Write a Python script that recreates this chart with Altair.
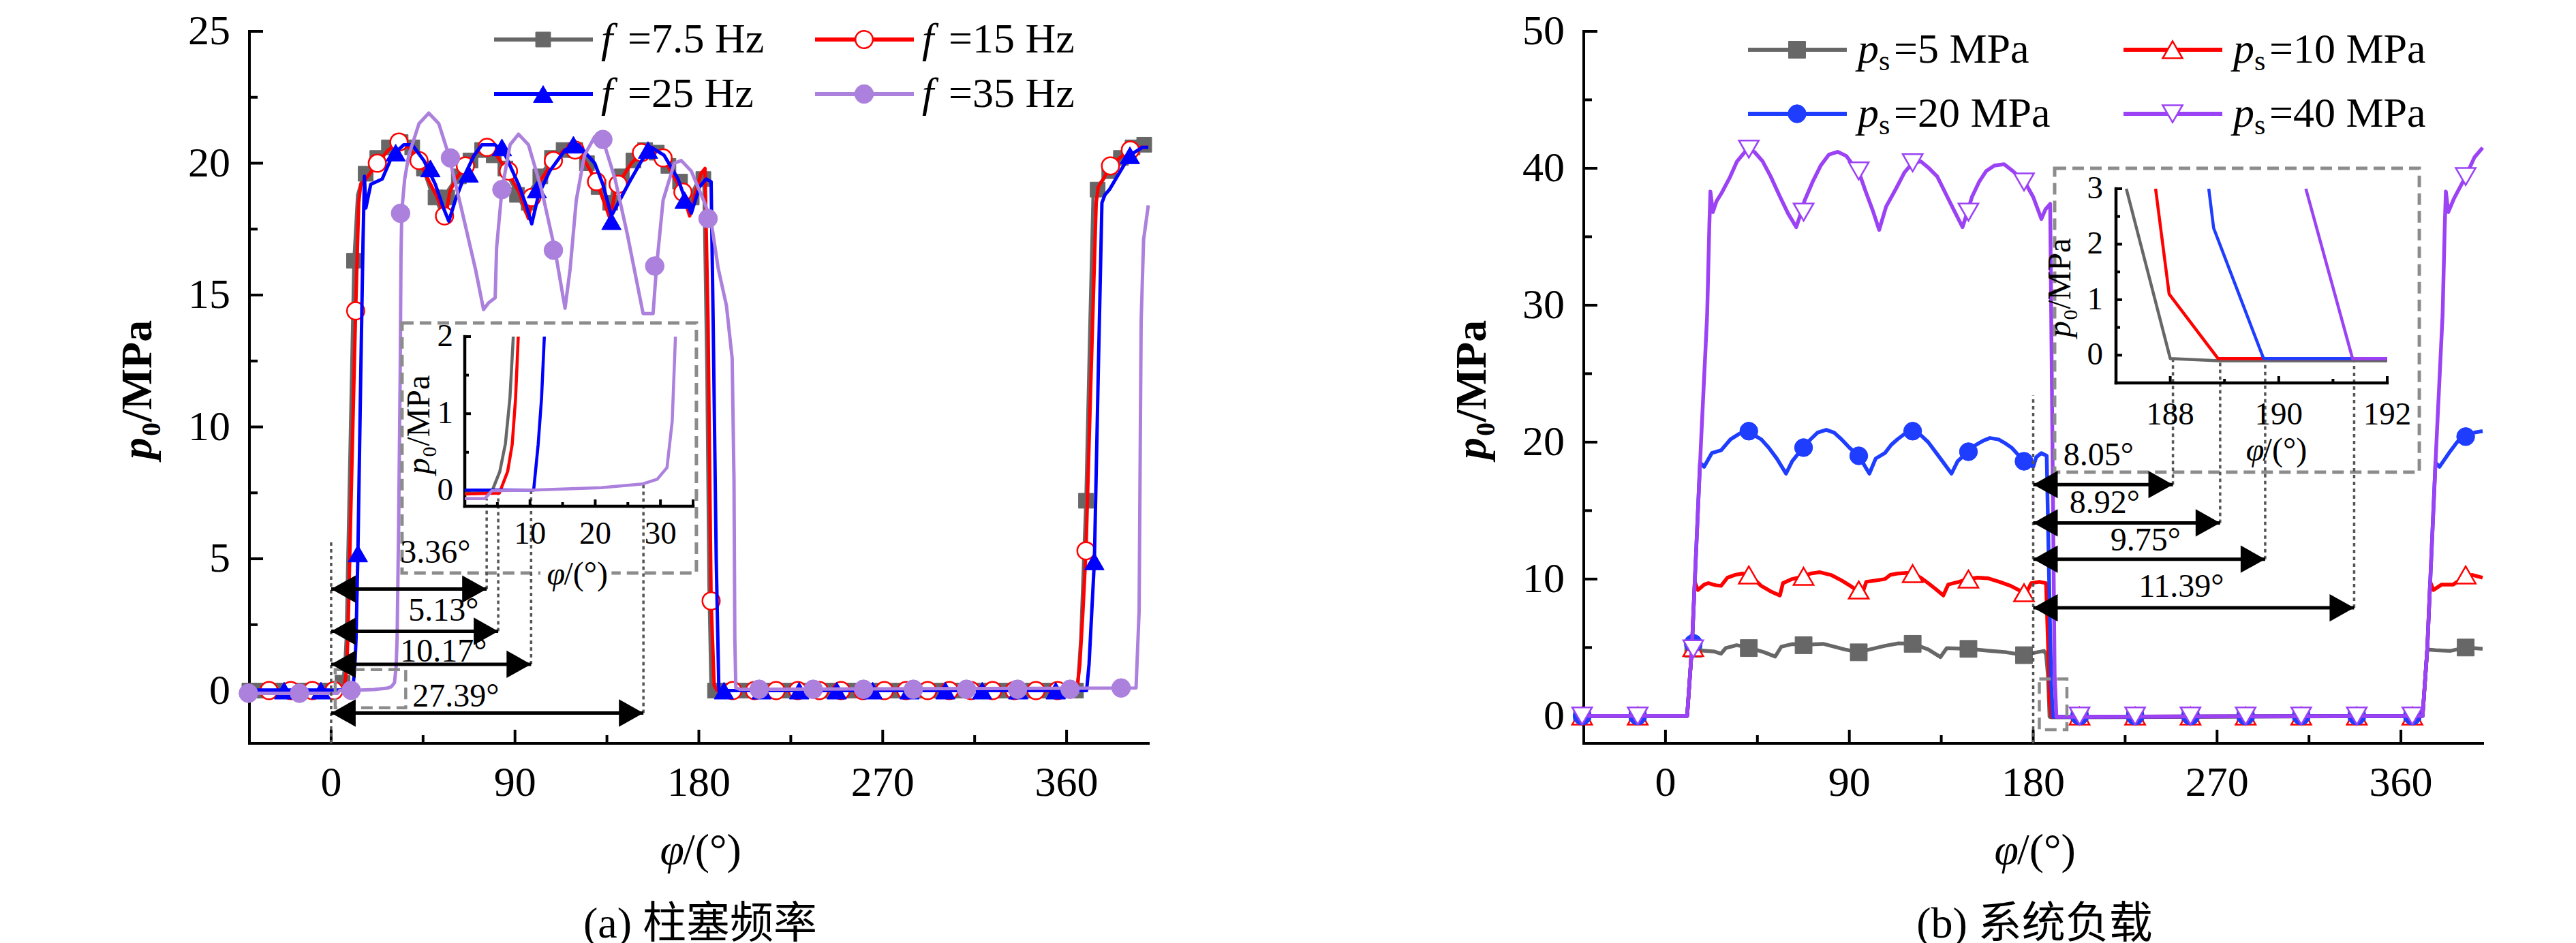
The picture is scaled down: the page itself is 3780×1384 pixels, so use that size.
import altair as alt
import pandas as pd

# ---------------- layout (pixels) ----------------
W, H = 1319, 1045
SERIF = "Liberation Serif"
CAPFONT = "Liberation Serif, Noto Sans CJK SC"
DUMMY = pd.DataFrame({"d": [0]})

X_DOM = [-40, 400]
X_MAJOR = [0, 90, 180, 270, 360]
X_MINOR = [45, 135, 225, 315]

# =============== panel (a): plunger frequency ===============
A_Y_DOM = [-2, 25]
A_Y_MAJOR = [0, 5, 10, 15, 20, 25]
A_Y_MINOR = [2.5, 7.5, 12.5, 17.5, 22.5]
A_LEG = ["=7.5 Hz", "=15 Hz", "=25 Hz", "=35 Hz"]
A_COLORS = ["#676767", "#ff0000", "#0000ff", "#ac80dd"]

a1_x = [-40, 3.0, 4.15, 5.37, 6.23, 6.92, 7.44, 9.0, 11.2, 13.0,
        16.1, 22.6, 28.3, 34.0, 39.7, 44.6, 48.6, 52.0, 55.3, 57.5,
        62.0, 67.5, 73.0, 78.5, 84.0, 89.5, 95.5, 98.0, 103.0, 108.5,
        114.0, 119.5, 125.0, 130.5, 135.8, 138.0, 143.0, 148.5, 154.0, 159.5,
        165.0, 170.5, 175.0, 177.5, 180.8, 182.5, 184.0, 185.0, 186.0, 187.0,
        365.3, 367.0, 369.5, 371.5, 373.0, 376.0, 381.0, 386.0, 391.0, 395.7, 400]
a1_y = [0, 0, 0.01, 0.25, 0.61, 1.2, 2.0, 8.0, 16.3, 18.8,
        19.6, 20.2, 20.6, 20.8, 20.6, 19.9, 19.0, 18.5, 17.9, 19.0,
        19.5, 20.1, 20.5, 20.4, 19.9, 19.1, 18.1, 19.0, 19.6, 20.2,
        20.5, 20.5, 20.0, 19.2, 18.1, 19.0, 19.6, 20.2, 20.5, 20.4,
        19.9, 19.3, 18.4, 19.0, 19.5, 19.4, 12.0, 4.0, 0.1, 0.0,
        0.0, 2.0, 7.2, 14.0, 18.7, 19.2, 19.7, 20.1, 20.5, 20.7, 20.7]
a1_mx = [-40.0, -34.3, -28.6, -22.9, -17.2, -11.5, -5.8, -0.1, 5.6,
         11.2, 16.9, 22.6, 28.3, 34.0, 39.7, 45.4, 51.1, 56.8, 62.5,
         68.2, 73.9, 79.6, 85.3, 91.0, 96.7, 102.4, 108.1, 113.8, 119.5,
         125.2, 130.9, 136.6, 142.3, 148.0, 153.7, 159.4, 165.1, 170.8, 176.5,
         182.2, 187.9, 193.6, 199.3, 205.0, 210.7, 216.4, 222.1, 227.8, 233.5,
         239.2, 244.9, 250.6, 256.3, 262.0, 267.7, 273.4, 279.1, 284.8, 290.5,
         296.2, 301.9, 307.6, 313.3, 319.0, 324.7, 330.4, 336.1, 341.8, 347.5,
         353.2, 358.9, 364.6, 369.5, 375.2, 380.9, 386.6, 392.3, 398.0]
a1_my = [0, 0, 0, 0, 0, 0, 0, 0, 0.3,
         16.3, 19.6, 20.2, 20.6, 20.8, 20.6, 19.8, 18.7, 18.7, 19.5,
         20.1, 20.5, 20.3, 19.8, 18.8, 18.5, 19.5, 20.2, 20.5, 20.5,
         20.0, 19.1, 18.5, 19.5, 20.1, 20.5, 20.4, 19.9, 19.3, 18.7,
         19.4, 0, 0, 0, 0, 0, 0, 0, 0, 0,
         0, 0, 0, 0, 0, 0, 0, 0, 0, 0,
         0, 0, 0, 0, 0, 0, 0, 0, 0, 0,
         0, 0, 0, 7.2, 19.0, 19.7, 20.2, 20.6, 20.7]

a2_x = [-40, 4.0, 5.37, 6.57, 7.27, 7.79, 8.2, 10.0, 12.0, 13.5,
        14.5, 18.0, 22.6, 28.0, 34.0, 38.0, 43.0, 48.0, 52.0, 56.0,
        58.0, 61.0, 65.7, 71.0, 76.0, 81.0, 87.0, 92.0, 96.6, 99.0,
        103.0, 109.0, 114.0, 119.0, 124.0, 130.0, 136.5, 139.0, 142.0, 147.0,
        152.0, 157.0, 162.5, 167.0, 172.0, 175.5, 178.0, 181.0, 183.0, 184.5,
        186.0, 187.5, 189.0, 365.0, 366.5, 368.0, 369.5, 372.0, 374.5, 375.5,
        378.0, 381.5, 386.0, 391.0, 396.0, 400]
a2_y = [-0.02, -0.02, 0.0, 0.25, 0.6, 1.2, 2.0, 8.0, 14.4, 18.5,
        19.2, 19.5, 20.0, 20.5, 20.8, 20.6, 20.1, 19.3, 18.7, 17.9,
        18.9, 19.4, 19.9, 20.4, 20.6, 20.3, 19.6, 18.9, 17.9, 18.9,
        19.4, 20.1, 20.5, 20.5, 20.1, 19.3, 17.9, 18.9, 19.4, 20.0,
        20.4, 20.6, 20.2, 19.6, 18.9, 18.0, 18.8, 19.6, 19.8, 14.0,
        3.4, 0.2, 0.0, 0.0, 1.0, 3.0, 5.3, 12.0, 18.5, 19.1,
        19.4, 19.9, 20.2, 20.5, 20.6, 20.6]
a2_mx = [-30.4, -19.8, -9.2, 1.4, 12.0, 22.6, 33.2, 43.0, 55.5, 65.7,
         76.3, 86.8, 98.2, 108.8, 119.4, 129.9, 140.5, 151.9, 162.5, 172.2,
         186.0, 196.6, 207.2, 217.8, 228.4, 239.0, 249.6, 260.2, 270.8, 281.4,
         292.0, 302.6, 313.2, 323.8, 334.4, 345.0, 355.6, 369.5, 381.5, 391.2]
a2_my = [0, 0, 0, 0, 14.4, 20.0, 20.8, 20.1, 18.0, 19.9,
         20.6, 19.7, 18.7, 20.1, 20.5, 19.3, 19.2, 20.4, 20.2, 18.9,
         3.4, 0, 0, 0, 0, 0, 0, 0, 0, 0,
         0, 0, 0, 0, 0, 0, 0, 5.3, 19.9, 20.5]

a3_x = [-40, 10.56, 11.25, 11.77, 12.2, 13.1, 14.5, 15.6, 16.3, 17.0,
        19.4, 25.0, 30.0, 35.6, 39.7, 45.4, 51.0, 55.0, 57.6, 60.8,
        65.7, 70.0, 73.8, 80.3, 85.3, 91.7, 95.0, 98.2, 101.5, 107.0,
        114.5, 121.0, 129.0, 133.0, 137.2, 142.0, 145.4, 152.0, 156.8, 163.0,
        169.8, 173.0, 176.3, 180.3, 183.6, 186.0, 187.0, 188.5, 189.8, 369.8,
        371.0, 373.6, 375.5, 377.3, 378.8, 381.0, 384.8, 391.0, 397.0, 400]
a3_y = [0.02, 0.02, 0.6, 1.2, 2.0, 5.2, 12.0, 17.0, 19.5, 18.3,
        19.2, 19.4, 20.3, 20.7, 20.7, 20.1, 19.2, 18.3, 17.8, 18.6,
        19.6, 20.3, 20.7, 20.7, 20.3, 19.2, 18.5, 17.7, 18.8, 19.7,
        20.5, 20.7, 20.0, 19.2, 18.0, 18.7, 19.2, 20.1, 20.6, 20.3,
        19.4, 18.7, 18.1, 19.1, 19.4, 19.3, 14.0, 5.0, 0.0, 0.0,
        1.0, 4.9, 12.0, 18.5, 18.8, 19.0, 19.5, 20.3, 20.6, 20.6]
a3_mx = [-23.0, -5.0, 13.1, 31.6, 48.6, 67.3, 83.6, 100.7, 118.6, 137.2,
         155.1, 173.0, 192.3, 210.7, 229.1, 247.5, 265.1, 283.1, 300.7, 318.7,
         336.3, 354.7, 373.6, 391.0]
a3_my = [0, 0, 5.2, 20.4, 19.8, 19.6, 20.6, 19.0, 20.7, 17.8,
         20.5, 18.6, 0, 0, 0, 0, 0, 0, 0, 0,
         0, 0, 4.9, 20.3]

a4_x = [-40, 3.1, 4.15, 10.5, 20.9, 27.3, 29.5, 31.0, 31.8, 32.3,
        33.0, 33.8, 34.2, 34.6, 36.0, 38.0, 43.0, 47.8, 52.7, 57.6,
        64.0, 70.6, 74.6, 77.0, 80.3, 81.0, 83.6, 87.6, 91.7, 96.6,
        103.0, 109.6, 114.5, 117.0, 120.0, 124.0, 129.0, 133.0, 139.0, 145.0,
        152.7, 157.6, 159.2, 162.5, 168.0, 171.4, 176.3, 182.8, 186.0, 189.5,
        193.5, 196.3, 197.2, 197.6, 198.1, 200.0, 394.0, 395.5, 396.5, 397.7, 400]
a4_y = [-0.1, -0.1, 0.0, 0.01, 0.04, 0.09, 0.15, 0.3, 0.9, 2.0,
        6.0, 12.0, 16.5, 18.2, 19.4, 20.3, 21.5, 21.9, 21.5, 20.3,
        18.2, 16.0, 14.45, 14.7, 14.9, 16.8, 19.0, 20.7, 21.1, 20.7,
        19.0, 16.7, 14.5, 16.0, 18.6, 20.3, 21.0, 20.9, 19.4, 17.3,
        14.3, 14.3, 16.0, 18.6, 20.0, 20.1, 19.7, 18.5, 17.8, 16.0,
        14.6, 12.6, 8.0, 2.0, 0.1, 0.05, 0.1, 3.0, 14.0, 17.1, 18.4]
a4_mx = [-40.5, -15.5, 9.8, 34.0, 58.4, 83.6, 108.8, 133.0, 158.4, 184.5,
         209.5, 236.0, 260.6, 285.0, 311.0, 336.0, 361.7, 386.7]
a4_my = [-0.1, -0.1, 0.01, 18.1, 20.2, 19.0, 16.7, 20.9, 16.1, 17.9,
         0.05, 0.05, 0.05, 0.05, 0.05, 0.05, 0.05, 0.1]

# inset of (a)
A_IN_XD, A_IN_YD = [0, 35], [-0.2, 2]
A_IN_XR, A_IN_YR = [316, 651], [697, 448]
A_IN_XMAJ, A_IN_XMIN = [10, 20, 30, 35], [5, 15, 25]
A_IN_YMAJ, A_IN_YMIN = [0, 1, 2], [0.5, 1.5]
A_IN_XLAB, A_IN_YLAB = [10, 20, 30], [0, 1, 2]
ai1_x, ai1_y = [0, 4.1, 5.37, 6.23, 6.92, 7.44], [-0.03, -0.02, 0.25, 0.61, 1.2, 2.0]
ai2_x, ai2_y = [0, 5.3, 6.57, 7.27, 7.79, 8.2], [-0.04, -0.03, 0.25, 0.6, 1.2, 2.0]
ai3_x, ai3_y = [0, 10.56, 11.25, 11.77, 12.2], [0.01, 0.01, 0.6, 1.2, 2.0]
ai4_x = [0, 3.1, 4.15, 10.5, 20.9, 27.3, 29.5, 31.0, 31.8, 32.3]
ai4_y = [-0.1, -0.1, 0.0, 0.01, 0.04, 0.09, 0.15, 0.3, 0.9, 2.0]

# annotations of (a)
A_ARR_START = 0
A_ARR_DEG = [3.36, 5.13, 10.17, 27.39]
A_ARR_Y = [3.85, 2.25, 1.0, -0.85]
A_ARR_TOP = [-0.1, 0.0, 0.0, 0.09]
A_ARR_TXT = ["3.36°", "5.13°", "10.17°", "27.39°"]
A_TXT_X = [51, 55, 55, 61]
A_TXT_Y = [5.2, 3.0, 1.45, -0.25]
A_VLINE = [0, 5.7]
A_BIG = [34.7, 178.8, 4.46, 13.94]
A_SMALL = [2.0, 36.5, -0.65, 0.8]

# =============== panel (b): system load ===============
B_Y_DOM = [-2, 50]
B_Y_MAJOR = [0, 10, 20, 30, 40, 50]
B_Y_MINOR = [5, 15, 25, 35, 45]
B_LEG = ["=5 MPa", "=10 MPa", "=20 MPa", "=40 MPa"]
B_COLORS = ["#676767", "#ff0000", "#1e3dff", "#9b42f5"]

b1_x = [-40, 10.6, 12.9, 16.0, 19.7, 24.0, 27.2, 29.5, 34.8, 40.8,
        48.4, 53.7, 56.7, 62.0, 67.6, 77.2, 87.7, 94.6, 98.3, 107.4,
        114.0, 121.0, 128.6, 134.6, 137.7, 148.3, 158.8, 167.0, 175.5, 180.0,
        185.3, 186.3, 187.19, 188.0, 188.9, 370.6, 372.9, 377.0, 384.0, 391.7, 400]
b1_y = [0, 0, 4.86, 4.8, 4.75, 4.7, 4.55, 4.96, 5.17, 5.0,
        4.65, 4.34, 5.06, 5.25, 5.2, 5.27, 4.86, 4.65, 4.8, 5.12,
        5.3, 5.27, 4.86, 4.3, 4.96, 4.9, 4.75, 4.65, 4.44, 4.6,
        4.75, 4.5, 3.0, -0.06, -0.1, 0, 4.86, 4.8, 4.75, 5.0, 4.9]
b2_x = [-40, 10.6, 12.9, 14.3, 15.9, 19.0, 21.0, 24.5, 27.2, 30.3,
        34.0, 37.8, 42.0, 46.9, 51.5, 56.0, 57.5, 62.0, 67.6, 71.0,
        75.6, 81.0, 86.2, 90.5, 94.5, 96.5, 98.3, 103.0, 107.4, 110.0,
        113.5, 118.0, 121.0, 125.0, 128.6, 132.0, 136.0, 138.4, 143.7, 148.0,
        152.8, 158.0, 163.4, 169.0, 175.5, 177.0, 179.0, 183.0, 186.3, 187.73,
        187.98, 188.88, 370.6, 372.9, 374.3, 375.9, 380.0, 385.6, 391.7, 395.0, 400]
b2_y = [0, 0, 4.9, 9.8, 9.2, 9.6, 9.7, 9.55, 9.5, 10.1,
        10.3, 10.4, 10.2, 9.5, 9.1, 8.8, 9.7, 10.0, 10.2, 10.4,
        10.5, 10.3, 9.9, 9.5, 9.1, 9.0, 9.8, 9.9, 10.0, 10.3,
        10.4, 10.45, 10.4, 10.1, 9.7, 9.3, 8.8, 9.6, 9.8, 10.0,
        10.1, 10.05, 9.8, 9.5, 9.0, 9.1, 9.7, 9.8, 9.7, 3.0,
        1.1, -0.06, 0, 4.9, 9.8, 9.2, 9.6, 9.6, 10.2, 10.3, 10.1]
b3_x = [-40, 10.6, 12.9, 14.4, 16.9, 18.9, 22.7, 27.2, 31.8, 36.0,
        40.0, 46.9, 50.5, 54.5, 59.0, 62.0, 67.3, 71.0, 74.5, 78.7,
        82.5, 86.2, 90.0, 94.5, 97.0, 99.8, 102.9, 107.4, 110.5, 113.5,
        117.0, 121.0, 125.0, 128.6, 134.6, 140.0, 143.0, 148.0, 152.0, 155.5,
        158.8, 163.0, 166.5, 169.4, 175.5, 180.0, 181.5, 184.0, 186.6, 188.71,
        188.8, 189.72, 370.6, 372.9, 374.4, 376.9, 378.9, 383.5, 387.5, 391.7, 396.0, 400]
b3_y = [0, 0, 4.9, 10.0, 18.5, 18.2, 19.2, 19.4, 20.2, 20.6,
        20.8, 20.2, 19.6, 18.8, 17.7, 18.6, 19.6, 20.2, 20.7, 20.9,
        20.7, 20.2, 19.6, 19.0, 18.4, 17.7, 18.8, 19.2, 19.8, 20.2,
        20.6, 20.8, 20.5, 20.0, 18.8, 17.7, 18.6, 19.3, 19.8, 20.1,
        20.3, 20.2, 19.9, 19.6, 18.6, 18.2, 18.9, 19.2, 19.0, 3.0,
        2.29, -0.06, 0, 4.9, 10.0, 18.5, 18.2, 19.2, 20.0, 20.5, 20.7, 20.8]
b4_x = [-40, 10.6, 12.9, 14.4, 17.4, 20.4, 21.5, 22.0, 23.2, 25.0,
        27.5, 31.4, 35.0, 39.5, 43.5, 47.6, 51.5, 55.8, 60.0, 64.0,
        66.0, 68.0, 72.0, 76.0, 80.0, 84.3, 88.5, 92.0, 94.5, 98.0,
        101.5, 104.6, 108.0, 112.8, 117.0, 121.0, 125.0, 129.0, 133.0, 137.0,
        141.0, 145.4, 148.0, 150.0, 153.5, 157.0, 161.0, 165.7, 170.0, 175.9,
        180.0, 184.0, 186.0, 188.3, 190.5, 191.36, 370.6, 372.9, 374.4, 377.4,
        380.4, 381.5, 382.0, 383.2, 386.0, 391.7, 396.0, 400]
b4_y = [0, 0, 4.9, 10.0, 20.0, 29.3, 36.0, 38.3, 36.8, 37.6,
        38.2, 39.3, 40.5, 41.3, 41.2, 40.5, 39.4, 38.0, 36.7, 35.7,
        36.6, 37.6, 39.0, 40.2, 41.0, 41.2, 40.9, 40.2, 39.8, 38.3,
        36.9, 35.5, 37.2, 38.5, 39.7, 40.4, 40.5, 40.0, 39.4, 38.2,
        37.0, 35.7, 36.9, 37.9, 39.0, 39.8, 40.2, 40.3, 39.8, 39.0,
        37.9, 36.3, 37.0, 37.4, 3.0, -0.06, 0, 4.9, 10.0, 20.0,
        29.3, 36.0, 38.3, 36.8, 37.8, 39.4, 40.8, 41.5]
B_MX = [-40.8, -13.6, 13.6, 40.8, 67.6, 94.6, 121.0, 148.3, 175.5, 202.7,
        229.9, 257.0, 284.0, 311.2, 338.4, 365.6, 391.7]
b1_my = [0, 0, 4.9, 4.96, 5.17, 4.65, 5.27, 4.9, 4.44, 0, 0, 0, 0, 0, 0, 0, 5.0]
b2_my = [0, 0, 5.0, 10.3, 10.2, 9.2, 10.4, 10.0, 9.0, 0, 0, 0, 0, 0, 0, 0, 10.3]
b3_my = [0, 0, 5.3, 20.8, 19.6, 19.0, 20.8, 19.3, 18.6, 0, 0, 0, 0, 0, 0, 0, 20.4]
b4_my = [0, 0, 4.9, 41.4, 36.8, 39.8, 40.4, 36.8, 39.0, 0, 0, 0, 0, 0, 0, 0, 39.4]

# inset of (b)
B_IN_XD, B_IN_YD = [187, 192], [-0.5, 3]
B_IN_XR, B_IN_YR = [781, 1179], [516, 231]
B_IN_XMAJ, B_IN_XMIN = [188, 190, 192], [189, 191]
B_IN_YMAJ, B_IN_YMIN = [0, 1, 2, 3], [0.5, 1.5, 2.5]
B_IN_XLAB, B_IN_YLAB = [188, 190, 192], [0, 1, 2, 3]
bi1_x, bi1_y = [187.19, 188.0, 188.9, 192.0], [3.0, -0.06, -0.1, -0.1]
bi2_x, bi2_y = [187.73, 187.98, 188.88, 192.0], [3.0, 1.1, -0.06, -0.06]
bi3_x, bi3_y = [188.71, 188.8, 189.72, 192.0], [3.0, 2.29, -0.06, -0.06]
bi4_x, bi4_y = [190.5, 191.36, 192.0], [3.0, -0.06, -0.06]

B_ARR_START = 180
B_ARR_DEG = [188.05, 188.92, 189.75, 191.39]
B_ARR_Y = [16.9, 14.1, 11.45, 7.9]
B_ARR_TOP = [-0.06, -0.06, -0.06, -0.06]
B_ARR_TXT = ["8.05°", "8.92°", "9.75°", "11.39°"]
B_TXT_X = [212, 215, 235, 252.5]
B_TXT_Y = [19.0, 15.5, 12.8, 9.4]
B_VLINE = [180, 23.4]
B_BIG = [190.5, 369.0, 17.8, 40.0]
B_SMALL = [183.0, 196.5, -1.0, 2.7]


# ---------------- helpers ----------------
def xq(f, s):
    return alt.X(f, type="quantitative", scale=s, axis=None)


def yq(f, s):
    return alt.Y(f, type="quantitative", scale=s, axis=None)


def line(xs, ys, color, sx, sy, width):
    df = pd.DataFrame({"x": xs, "y": ys, "o": list(range(len(xs)))})
    return alt.Chart(df).mark_line(color=color, strokeWidth=width, strokeJoin="round").encode(
        x=xq("x", sx), y=yq("y", sy), order=alt.Order("o:Q"))


def markers(xs, ys, sx, sy, mk):
    df = pd.DataFrame({"x": xs, "y": ys})
    return alt.Chart(df).mark_point(shape=mk["shape"], size=mk["size"], filled=True, fill=mk["fill"],
                                    stroke=mk["stroke"], strokeWidth=mk["sw"], opacity=1).encode(
        x=xq("x", sx), y=yq("y", sy))


def ticks(vals, fixed, sx, sy, length, vertical, sw=4):
    if vertical:
        df = pd.DataFrame({"x": vals, "y": [fixed] * len(vals)})
        shape = "M0,0L0,-1"
    else:
        df = pd.DataFrame({"x": [fixed] * len(vals), "y": vals})
        shape = "M0,0L1,0"
    return alt.Chart(df).mark_point(shape=shape, size=(2 * length) ** 2, filled=False, color="black",
                                    strokeWidth=sw, opacity=1).encode(x=xq("x", sx), y=yq("y", sy))


def axis_lines(xd, yd, sx, sy, sw):
    df = pd.DataFrame({"x": [xd[0]], "x2": [xd[1]], "y": [yd[0]], "y2": [yd[1]]})
    bottom = alt.Chart(df).mark_rule(color="black", strokeWidth=sw, strokeCap="square").encode(
        x=xq("x", sx), x2=alt.X2("x2"), y=yq("y", sy))
    left = alt.Chart(df).mark_rule(color="black", strokeWidth=sw, strokeCap="square").encode(
        x=xq("x", sx), y=yq("y", sy), y2=alt.Y2("y2"))
    return [bottom, left]


def xlabels(vals, sx, ypx, size):
    df = pd.DataFrame({"x": vals, "t": [str(v) for v in vals]})
    return alt.Chart(df).mark_text(font=SERIF, fontSize=size, align="center", baseline="middle",
                                   color="black").encode(x=xq("x", sx), y=alt.value(ypx), text="t:N")


def ylabels(vals, sy, xpx, size):
    df = pd.DataFrame({"y": vals, "t": [str(v) for v in vals]})
    return alt.Chart(df).mark_text(font=SERIF, fontSize=size, align="right", baseline="middle",
                                   color="black").encode(x=alt.value(xpx), y=yq("y", sy), text="t:N")


def ptext(text, x, y, size, style="normal", weight="normal", align="left", baseline="middle",
          angle=0, font=SERIF):
    return alt.Chart(DUMMY).mark_text(text=text, font=font, fontSize=size, fontStyle=style,
                                      fontWeight=weight, align=align, baseline=baseline, angle=angle,
                                      color="black").encode(x=alt.value(x), y=alt.value(y))


def dbox(b, sx, sy, sw):
    df = pd.DataFrame({"x": [b[0]], "x2": [b[1]], "y": [b[2]], "y2": [b[3]]})
    return alt.Chart(df).mark_rect(fill="white", fillOpacity=0, stroke="#8c8c8c", strokeWidth=sw,
                                   strokeDash=[17, 9]).encode(
        x=xq("x", sx), x2=alt.X2("x2"), y=yq("y", sy), y2=alt.Y2("y2"))


def phi_title(cx, cy, size):
    return [ptext("φ", cx - 0.92 * size, cy, size, style="italic"),
            ptext("/(°)", cx - 0.40 * size, cy, size)]


def p_title(xb, ybot, size, weight, sub):
    adv_p = 0.53 * size
    sub_size = 0.63 * size
    return [ptext("p", xb, ybot, size, style="italic", weight=weight, baseline="alphabetic", angle=270),
            ptext(sub, xb + 0.2 * size, ybot - adv_p, sub_size, weight=weight, baseline="alphabetic",
                  angle=270),
            ptext("/MPa", xb, ybot - adv_p - 0.52 * sub_size, size, weight=weight, baseline="alphabetic",
                  angle=270)]


def legend_entry(x0, y, color, mk, lw=6):
    ln = alt.Chart(DUMMY).mark_rule(color=color, strokeWidth=lw).encode(
        x=alt.value(x0), x2=alt.value(x0 + 145), y=alt.value(y))
    pt = alt.Chart(DUMMY).mark_point(shape=mk["shape"], size=mk["size"], filled=True, fill=mk["fill"],
                                     stroke=mk["stroke"], strokeWidth=mk["sw"], opacity=1).encode(
        x=alt.value(x0 + 72), y=alt.value(y))
    return [ln, pt]


def inset_to_main_x(v, ixd, ixr, xd):
    px = ixr[0] + (v - ixd[0]) / (ixd[1] - ixd[0]) * (ixr[1] - ixr[0])
    return xd[0] + px / W * (xd[1] - xd[0])


def inset_to_main_y(v, iyd, iyr, yd):
    px = iyr[0] + (v - iyd[0]) / (iyd[1] - iyd[0]) * (iyr[1] - iyr[0])
    return yd[1] - px / H * (yd[1] - yd[0])


def build_panel(y_dom, y_major, y_minor, series, mks, lw, legend, arrows, boxes, vline,
                inset, caption, ytitle_sub):
    sx = alt.Scale(domain=X_DOM, nice=False, zero=False)
    sy = alt.Scale(domain=y_dom, nice=False, zero=False)

    main = []
    main.extend(axis_lines(X_DOM, y_dom, sx, sy, 4))
    main.append(xlabels(X_MAJOR, sx, H + 58, 62))
    main.append(ylabels(y_major, sy, -28, 62))
    main.append(ticks(X_MAJOR, y_dom[0], sx, sy, 20, True))
    main.append(ticks(X_MINOR, y_dom[0], sx, sy, 12, True))
    main.append(ticks(y_major, X_DOM[0], sx, sy, 20, False))
    main.append(ticks(y_minor, X_DOM[0], sx, sy, 12, False))

    for i, (sxv, syv, mxv, myv, color) in enumerate(series):
        main.append(line(sxv, syv, color, sx, sy, lw))
        main.append(markers(mxv, myv, sx, sy, mks[i]))

    # dashed boxes
    main.append(dbox(boxes[0], sx, sy, 5))
    main.append(dbox(boxes[1], sx, sy, 4.5))

    # dotted verticals
    ixd, iyd, ixr, iyr = inset["xd"], inset["yd"], inset["xr"], inset["yr"]
    a_start, a_deg, a_y, a_top, a_txt, t_x, t_y = arrows
    ends = [inset_to_main_x(v, ixd, ixr, X_DOM) for v in a_deg]
    tops = [inset_to_main_y(v, iyd, iyr, y_dom) for v in a_top]
    dots = pd.DataFrame({"x": [vline[0]] + ends, "y": [y_dom[0]] + a_y, "y2": [vline[1]] + tops})
    main.append(alt.Chart(dots).mark_rule(color="#555555", strokeWidth=3.5, strokeDash=[5, 5]).encode(
        x=xq("x", sx), y=yq("y", sy), y2=alt.Y2("y2")))

    # arrows
    adf = pd.DataFrame({"x0": [a_start] * len(ends), "x1": ends, "y": a_y})
    base = alt.Chart(adf)
    main.append(base.mark_rule(color="black", strokeWidth=5).encode(
        x=xq("x0", sx), x2=alt.X2("x1"), y=yq("y", sy)))
    main.append(base.mark_point(shape="M0,0L-1,-0.56L-1,0.56Z", size=5184, filled=True, color="black",
                                opacity=1, strokeWidth=0).encode(x=xq("x1", sx), y=yq("y", sy)))
    main.append(base.mark_point(shape="M0,0L1,-0.56L1,0.56Z", size=5184, filled=True, color="black",
                                opacity=1, strokeWidth=0).encode(x=xq("x0", sx), y=yq("y", sy)))
    tdf = pd.DataFrame({"x": t_x, "y": t_y, "t": a_txt})
    main.append(alt.Chart(tdf).mark_text(font=SERIF, fontSize=48, align="center", baseline="middle",
                                         color="black").encode(x=xq("x", sx), y=yq("y", sy), text="t:N"))

    # legend
    for entry in legend:
        main.extend(entry)

    # titles & caption
    main.extend(phi_title(W / 2 + 2, H + 158, 64))
    main.extend(p_title(-144, 628, 64, "bold", ytitle_sub))
    main.append(ptext(caption, W / 2 + 2, H + 266, 64, align="center", font=CAPFONT))

    # ---------- inset ----------
    isx = alt.Scale(domain=ixd, range=ixr, nice=False, zero=False)
    isy = alt.Scale(domain=iyd, range=iyr, nice=False, zero=False)
    ins = []
    ins.extend(axis_lines(ixd, iyd, isx, isy, 4.5))
    ins.append(ticks(inset["xmaj"], iyd[0], isx, isy, 10, True, 4))
    ins.append(ticks(inset["xmin"], iyd[0], isx, isy, 6, True, 4))
    ins.append(ticks(inset["ymaj"], ixd[0], isx, isy, 9, False, 4))
    ins.append(ticks(inset["ymin"], ixd[0], isx, isy, 6, False, 4))
    for (lx, ly, color) in inset["lines"]:
        ins.append(line(lx, ly, color, isx, isy, 4.5))
    ins.append(xlabels(inset["xlab"], isx, inset["xlab_y"], 47))
    ins.append(ylabels(inset["ylab"], isy, ixr[0] - inset["ylab_dx"], 47))
    if inset.get("gap"):
        gdf = pd.DataFrame({"x": [inset["gap"][0]], "x2": [inset["gap"][1]]})
        ins.append(alt.Chart(gdf).mark_rect(color="white").encode(
            x=xq("x", isx), x2=alt.X2("x2"), y=alt.value(inset["gap"][2]), y2=alt.value(inset["gap"][3])))
    tcx = ixr[0] + (inset["title_x"] - ixd[0]) / (ixd[1] - ixd[0]) * (ixr[1] - ixr[0])
    ins.extend(phi_title(tcx, inset["title_y"], 48))
    ins.extend(p_title(inset["ytitle_x"], inset["ytitle_bot"], 48, "normal", "0"))

    return alt.layer(alt.layer(*main), alt.layer(*ins)).resolve_scale(
        x="independent", y="independent").properties(width=W, height=H)


def mk(shape, size, fill, stroke, sw):
    return {"shape": shape, "size": size, "fill": fill, "stroke": stroke, "sw": sw}


# ---------------- panel (a) ----------------
A_MK = [mk("square", 480, A_COLORS[0], A_COLORS[0], 1),
        mk("circle", 650, "white", A_COLORS[1], 2.5),
        mk("triangle-up", 820, A_COLORS[2], A_COLORS[2], 1),
        mk("circle", 760, A_COLORS[3], A_COLORS[3], 1)]
A_LEG_POS = [(359, 12), (830, 12), (359, 92), (830, 92)]
a_legend = []
for i in range(4):
    x0, yy = A_LEG_POS[i]
    a_legend.append(legend_entry(x0, yy, A_COLORS[i], A_MK[i]))
    a_legend.append([ptext("f", x0 + 157, yy, 62, style="italic"),
                     ptext(A_LEG[i], x0 + 196, yy, 62)])

panel_a = build_panel(
    A_Y_DOM, A_Y_MAJOR, A_Y_MINOR,
    [(a1_x, a1_y, a1_mx, a1_my, A_COLORS[0]), (a2_x, a2_y, a2_mx, a2_my, A_COLORS[1]),
     (a3_x, a3_y, a3_mx, a3_my, A_COLORS[2]), (a4_x, a4_y, a4_mx, a4_my, A_COLORS[3])],
    A_MK, 5, a_legend,
    (A_ARR_START, A_ARR_DEG, A_ARR_Y, A_ARR_TOP, A_ARR_TXT, A_TXT_X, A_TXT_Y),
    [A_BIG, A_SMALL], A_VLINE,
    {"xd": A_IN_XD, "yd": A_IN_YD, "xr": A_IN_XR, "yr": A_IN_YR,
     "xmaj": A_IN_XMAJ, "xmin": A_IN_XMIN, "ymaj": A_IN_YMAJ, "ymin": A_IN_YMIN,
     "lines": [(ai1_x, ai1_y, A_COLORS[0]), (ai2_x, ai2_y, A_COLORS[1]),
               (ai3_x, ai3_y, A_COLORS[2]), (ai4_x, ai4_y, A_COLORS[3])],
     "xlab": A_IN_XLAB, "ylab": A_IN_YLAB, "xlab_y": 738, "ylab_dx": 17,
     "gap": [11.6, 22.5, 781, 811], "title_x": 17.2, "title_y": 798,
     "ytitle_x": 264, "ytitle_bot": 650},
    "(a) 柱塞频率", "0")

# ---------------- panel (b) ----------------
B_MK = [mk("square", 620, B_COLORS[0], B_COLORS[0], 1),
        mk("triangle-up", 850, "white", B_COLORS[1], 2.5),
        mk("circle", 700, B_COLORS[2], B_COLORS[2], 1),
        mk("triangle-down", 850, "white", B_COLORS[3], 2.5)]
B_LEG_POS = [(241, 27), (792, 27), (241, 121), (792, 121)]
b_legend = []
for i in range(4):
    x0, yy = B_LEG_POS[i]
    b_legend.append(legend_entry(x0, yy, B_COLORS[i], B_MK[i]))
    b_legend.append([ptext("p", x0 + 161, yy, 62, style="italic"),
                     ptext("s", x0 + 192, yy + 17, 42),
                     ptext(B_LEG[i], x0 + 214, yy, 62)])

panel_b = build_panel(
    B_Y_DOM, B_Y_MAJOR, B_Y_MINOR,
    [(b1_x, b1_y, B_MX, b1_my, B_COLORS[0]), (b2_x, b2_y, B_MX, b2_my, B_COLORS[1]),
     (b3_x, b3_y, B_MX, b3_my, B_COLORS[2]), (b4_x, b4_y, B_MX, b4_my, B_COLORS[3])],
    B_MK, 5.5, b_legend,
    (B_ARR_START, B_ARR_DEG, B_ARR_Y, B_ARR_TOP, B_ARR_TXT, B_TXT_X, B_TXT_Y),
    [B_BIG, B_SMALL], B_VLINE,
    {"xd": B_IN_XD, "yd": B_IN_YD, "xr": B_IN_XR, "yr": B_IN_YR,
     "xmaj": B_IN_XMAJ, "xmin": B_IN_XMIN, "ymaj": B_IN_YMAJ, "ymin": B_IN_YMIN,
     "lines": [(bi1_x, bi1_y, B_COLORS[0]), (bi2_x, bi2_y, B_COLORS[1]),
               (bi3_x, bi3_y, B_COLORS[2]), (bi4_x, bi4_y, B_COLORS[3])],
     "xlab": B_IN_XLAB, "ylab": B_IN_YLAB, "xlab_y": 563, "ylab_dx": 19,
     "gap": None, "title_x": 189.95, "title_y": 616,
     "ytitle_x": 714, "ytitle_bot": 449},
    "(b) 系统负载", "0")

chart = alt.hconcat(panel_a, panel_b, spacing=437).properties(
    padding={"left": 163, "top": 7, "right": 10, "bottom": 0}
).configure_view(stroke=None)

chart.save("out.html", embed_options={"renderer": "svg", "actions": False})
